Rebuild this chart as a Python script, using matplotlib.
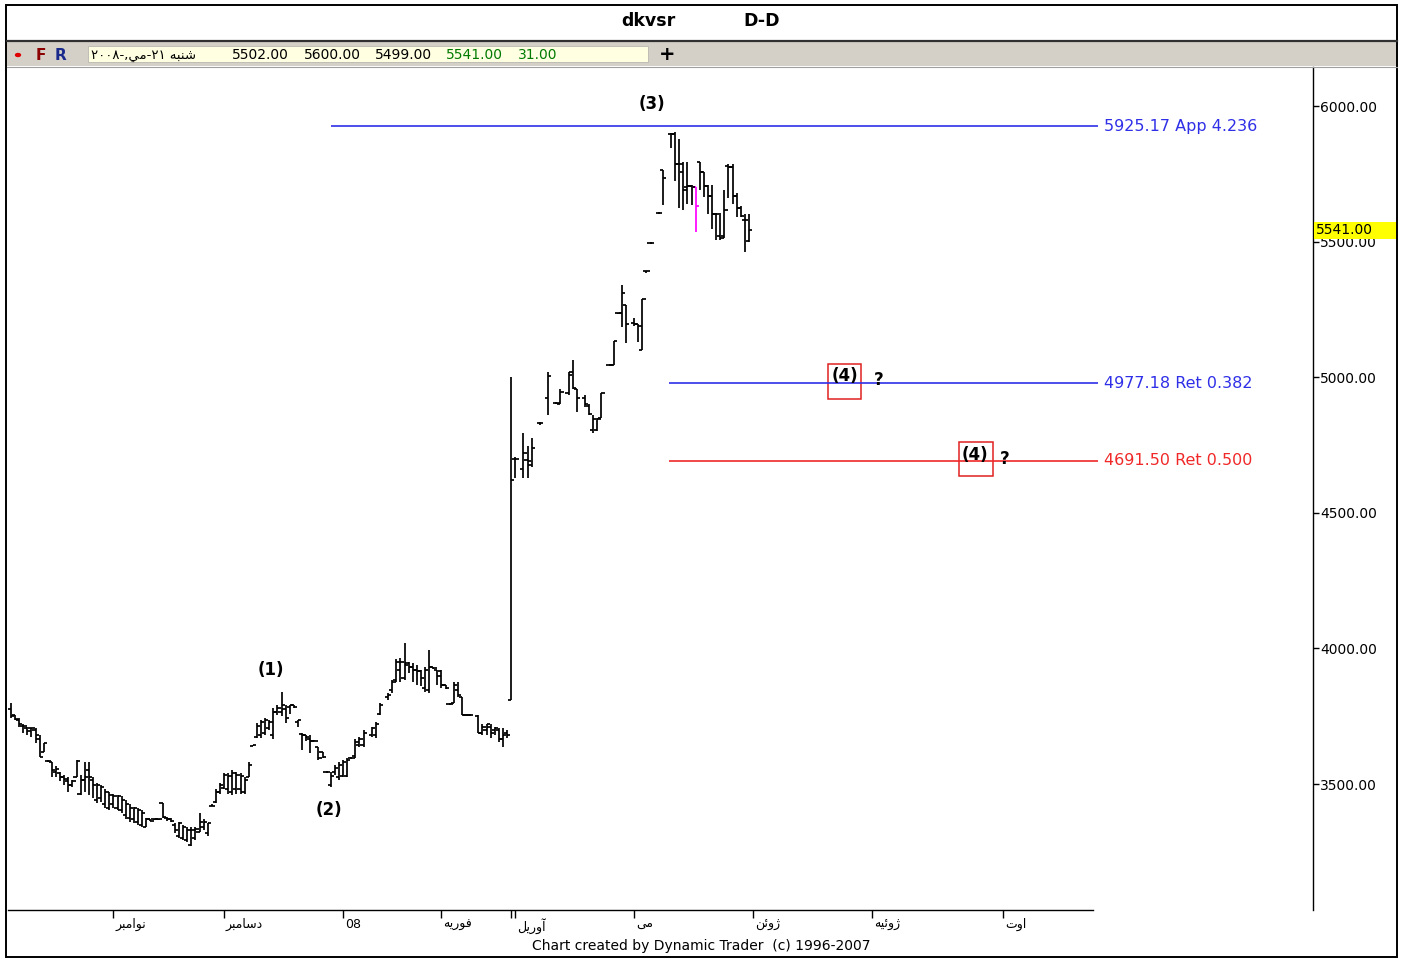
import matplotlib
matplotlib.use("Agg")
import matplotlib.pyplot as plt
from matplotlib.patches import Rectangle, Circle
from matplotlib.lines import Line2D
import numpy as np

plt.rcParams['font.family'] = ['DejaVu Sans', 'Noto Sans']

# ---------------------------------------------------------------- data
# trading-day index, open, high, low, close
day = [0, 1, 2, 3, 4, 5, 6, 7, 8, 9, 10, 11, 12, 13, 14, 15, 16, 17, 18, 19,
       20, 21, 22, 23, 24, 25, 26, 27, 28, 29, 30, 31, 32, 33, 34, 35, 36, 37, 38, 39,
       40, 41, 42, 43, 44, 45, 46, 47, 48, 49, 50, 51, 52, 53, 54, 55, 56, 57, 58, 59,
       60, 61, 62, 63, 64, 65, 66, 67, 68, 69, 70, 71, 72, 73, 74, 75, 76, 77, 78, 79,
       80, 81, 82, 83, 84, 85, 86, 88, 89, 90, 92, 93, 94, 95, 96, 97, 98, 99, 100, 101,
       102, 103, 104, 105, 106, 107, 108, 109, 110, 111, 112, 114, 115, 116, 117, 118, 119, 120, 121, 122,
       123, 125, 126, 127, 129, 131, 133, 134, 136, 137, 138, 140, 141, 142, 143, 144, 146, 147, 148, 149,
       150, 152, 153, 154, 155, 156, 158, 159, 161, 162, 163, 164, 165, 166, 167, 168, 169, 170, 171, 172,
       173, 174, 175, 176, 177, 178, 179, 180]
opens = [3775, 3755, 3735, 3715, 3705, 3705, 3700, 3665, 3620, 3585, 3580, 3545, 3540, 3525, 3510, 3495, 3525, 3465, 3515, 3550,
         3515, 3440, 3450, 3425, 3410, 3425, 3410, 3405, 3385, 3375, 3370, 3360, 3350, 3340, 3370, 3370, 3370, 3430, 3375, 3370,
         3350, 3310, 3300, 3295, 3275, 3300, 3325, 3340, 3320, 3420, 3435, 3470, 3485, 3480, 3470, 3480, 3480, 3470, 3525, 3640,
         3675, 3680, 3690, 3705, 3680, 3765, 3765, 3775, 3785, 3790, 3730, 3685, 3680, 3665, 3660, 3635, 3620, 3545, 3495, 3545,
         3525, 3530, 3530, 3595, 3605, 3645, 3645, 3680, 3680, 3760, 3820, 3845, 3885, 3920, 3890, 3945, 3930, 3920, 3915, 3855,
         3845, 3930, 3920, 3915, 3865, 3795, 3800, 3845, 3820, 3755, 3755, 3750, 3690, 3700, 3710, 3700, 3700, 3665, 3690, 3810,
         4700, 4660, 4695, 4675, 4830, 4925, 4905, 4900, 4940, 5020, 4955, 4925, 4895, 4805, 4805, 4850, 5045, 5045, 5235, 5235,
         5265, 5200, 5195, 5100, 5390, 5495, 5605, 5765, 5895, 5895, 5785, 5755, 5700, 5705, 5700, 5795, 5755, 5705, 5670, 5600,
         5520, 5520, 5780, 5775, 5670, 5625, 5580, 5502]
highs = [3800, 3755, 3745, 3720, 3710, 3705, 3705, 3680, 3650, 3590, 3580, 3565, 3545, 3535, 3525, 3515, 3590, 3535, 3580, 3580,
         3525, 3505, 3495, 3480, 3470, 3465, 3460, 3455, 3440, 3425, 3415, 3410, 3405, 3375, 3370, 3372, 3372, 3430, 3380, 3375,
         3355, 3360, 3350, 3340, 3340, 3340, 3395, 3370, 3355, 3425, 3480, 3505, 3540, 3540, 3550, 3545, 3540, 3525, 3580, 3645,
         3725, 3735, 3745, 3735, 3780, 3790, 3840, 3790, 3790, 3792, 3735, 3690, 3680, 3680, 3662, 3637, 3620, 3548, 3545, 3570,
         3580, 3590, 3595, 3598, 3665, 3675, 3700, 3710, 3730, 3800, 3835, 3885, 3960, 3965, 4020, 3950, 3945, 3940, 3920, 3930,
         3995, 3932, 3920, 3920, 3865, 3797, 3875, 3875, 3820, 3757, 3757, 3755, 3720, 3720, 3720, 3710, 3705, 3705, 3700, 5000,
         4705, 4795, 4745, 4775, 4835, 5020, 4908, 4955, 5020, 5065, 4955, 4935, 4900, 4860, 4850, 4940, 5048, 5135, 5238, 5340,
         5265, 5220, 5195, 5290, 5392, 5497, 5608, 5765, 5900, 5905, 5880, 5795, 5795, 5710, 5700, 5795, 5755, 5710, 5710, 5605,
         5605, 5690, 5785, 5785, 5680, 5630, 5600, 5600]
lows = [3745, 3735, 3710, 3690, 3680, 3675, 3650, 3600, 3620, 3580, 3525, 3525, 3510, 3495, 3470, 3490, 3525, 3460, 3470, 3460,
        3450, 3430, 3435, 3410, 3405, 3410, 3405, 3395, 3370, 3360, 3355, 3350, 3340, 3340, 3365, 3368, 3368, 3375, 3365, 3360,
        3320, 3300, 3295, 3285, 3270, 3295, 3325, 3330, 3310, 3420, 3430, 3465, 3480, 3465, 3460, 3465, 3465, 3465, 3525, 3640,
        3670, 3670, 3680, 3700, 3665, 3755, 3750, 3725, 3760, 3780, 3710, 3625, 3660, 3615, 3658, 3590, 3595, 3542, 3490, 3535,
        3515, 3525, 3525, 3592, 3595, 3635, 3635, 3675, 3670, 3755, 3810, 3835, 3875, 3875, 3885, 3910, 3875, 3865, 3860, 3840,
        3835, 3925, 3865, 3855, 3850, 3793, 3800, 3820, 3755, 3752, 3752, 3690, 3680, 3680, 3670, 3680, 3655, 3635, 3670, 3810,
        4630, 4630, 4630, 4670, 4825, 4860, 4900, 4900, 4935, 4955, 4870, 4890, 4860, 4795, 4800, 4850, 5042, 5045, 5232, 5185,
        5125, 5190, 5130, 5100, 5386, 5492, 5603, 5635, 5845, 5725, 5625, 5615, 5640, 5635, 5535, 5690, 5665, 5600, 5545, 5505,
        5505, 5515, 5660, 5640, 5590, 5590, 5460, 5499]
closes = [3750, 3740, 3720, 3715, 3695, 3705, 3680, 3600, 3650, 3585, 3550, 3555, 3525, 3520, 3495, 3510, 3585, 3515, 3525, 3525,
          3495, 3495, 3490, 3470, 3460, 3455, 3455, 3440, 3425, 3410, 3410, 3405, 3395, 3370, 3365, 3370, 3370, 3380, 3370, 3362,
          3330, 3355, 3340, 3330, 3330, 3335, 3360, 3360, 3355, 3420, 3470, 3495, 3535, 3530, 3540, 3535, 3530, 3515, 3570, 3645,
          3715, 3730, 3735, 3730, 3765, 3780, 3790, 3745, 3790, 3785, 3735, 3680, 3675, 3660, 3660, 3595, 3600, 3545, 3530, 3560,
          3570, 3580, 3590, 3596, 3655, 3665, 3690, 3705, 3720, 3790, 3830, 3875, 3950, 3950, 3940, 3930, 3920, 3915, 3890, 3920,
          3930, 3928, 3900, 3865, 3855, 3795, 3865, 3830, 3755, 3755, 3755, 3690, 3710, 3720, 3690, 3705, 3665, 3680, 3680, 4620,
          4700, 4720, 4690, 4740, 4830, 5005, 4905, 4945, 5010, 4960, 4925, 4900, 4865, 4845, 4845, 4940, 5045, 5135, 5235, 5310,
          5195, 5195, 5190, 5290, 5390, 5495, 5605, 5735, 5895, 5785, 5785, 5690, 5705, 5700, 5630, 5755, 5705, 5670, 5600, 5600,
          5515, 5615, 5775, 5670, 5625, 5595, 5580, 5541]
highlight_day = 167

# price targets drawn as horizontal levels
level_values = [5925.17, 4977.18, 4691.50]
level_labels = ["5925.17 App 4.236", "4977.18 Ret 0.382", "4691.50 Ret 0.500"]
level_colors = ["#2f2fe8", "#2f2fe8", "#f02828"]
level_starts = [78, 160.5, 160.5]
level_end = 265

y_ticks = [3500, 4000, 4500, 5000, 5500, 6000]
last_close = 5541.00

header_values = ["5502.00", "5600.00", "5499.00", "5541.00", "31.00"]

month_days = [25, 52, 81, 105, 122, 123, 152, 181, 210, 242]
month_names = ["نوامبر", "دسامبر", "08", "فوريه", "", "آوريل", "مى", "ژوئن", "ژوئيه", "اوت"]

# ---------------------------------------------------------------- Persian shaping
FORMS = {
    'ا': ('\uFE8D', '\uFE8E', None, None),
    'آ': ('\uFE81', '\uFE82', None, None),
    'ب': ('\uFE8F', '\uFE90', '\uFE91', '\uFE92'),
    'ت': ('\uFE95', '\uFE96', '\uFE97', '\uFE98'),
    'د': ('\uFEA9', '\uFEAA', None, None),
    'ر': ('\uFEAD', '\uFEAE', None, None),
    'ژ': ('\uFB8A', '\uFB8B', None, None),
    'س': ('\uFEB1', '\uFEB2', '\uFEB3', '\uFEB4'),
    'ش': ('\uFEB5', '\uFEB6', '\uFEB7', '\uFEB8'),
    'ف': ('\uFED1', '\uFED2', '\uFED3', '\uFED4'),
    'ل': ('\uFEDD', '\uFEDE', '\uFEDF', '\uFEE0'),
    'م': ('\uFEE1', '\uFEE2', '\uFEE3', '\uFEE4'),
    'ن': ('\uFEE5', '\uFEE6', '\uFEE7', '\uFEE8'),
    'ه': ('\uFEE9', '\uFEEA', '\uFEEB', '\uFEEC'),
    'و': ('\uFEED', '\uFEEE', None, None),
    'ي': ('\uFEF1', '\uFEF2', '\uFEF3', '\uFEF4'),
    'ى': ('\uFEEF', '\uFEF0', None, None),
    'ئ': ('\uFE89', '\uFE8A', '\uFE8B', '\uFE8C'),
}


def farsi(text):
    """Shape Persian letters and return them in left-to-right display order."""
    out = []
    n = len(text)
    for i, ch in enumerate(text):
        forms = FORMS.get(ch)
        if forms is None:
            out.append(ch)
            continue
        prev = FORMS.get(text[i - 1]) if i > 0 else None
        nxt = FORMS.get(text[i + 1]) if i < n - 1 else None
        join_prev = prev is not None and prev[2] is not None
        join_next = nxt is not None and forms[2] is not None
        if join_prev and join_next:
            g = forms[3]
        elif join_prev:
            g = forms[1]
        elif join_next:
            g = forms[2]
        else:
            g = forms[0]
        out.append(g)
    if any(c in FORMS for c in text):
        return ''.join(reversed(out))
    return ''.join(out)


# ---------------------------------------------------------------- figure
W, H = 1401, 958
fig = plt.figure(figsize=(W / 100, H / 100), dpi=100)
fig.patch.set_facecolor("white")


def fx(px):
    return px / W


def fy(py):
    return 1 - py / H


# header: title strip, toolbar and outer frame
fig.add_artist(Rectangle((fx(7), fy(66)), fx(1397) - fx(7), fy(42) - fy(66),
                         transform=fig.transFigure, facecolor="#d4d0c8", edgecolor="none"))
fig.add_artist(Line2D([fx(7), fx(1397)], [fy(41), fy(41)], transform=fig.transFigure,
                      color="#303030", lw=1.6))
fig.add_artist(Line2D([fx(7), fx(1397)], [fy(66.5), fy(66.5)], transform=fig.transFigure,
                      color="#a0a0a0", lw=0.8))
fig.add_artist(Rectangle((fx(88), fy(62)), fx(648) - fx(88), fy(46) - fy(62),
                         transform=fig.transFigure, facecolor="#ffffe1", edgecolor="#b8b8b0", lw=0.6))
fig.add_artist(Rectangle((fx(6), fy(957)), fx(1397) - fx(6), fy(5) - fy(957),
                         transform=fig.transFigure, facecolor="none", edgecolor="black", lw=1.4))
fig.add_artist(Circle((fx(18), fy(55)), 3.2 / W, transform=fig.transFigure,
                      facecolor="#e00000", edgecolor="none"))

fig.text(fx(648), fy(21), "dkvsr", ha="center", va="center", fontsize=12.5, fontweight="bold")
fig.text(fx(762), fy(21), "D-D", ha="center", va="center", fontsize=12.5, fontweight="bold")
fig.text(fx(41), fy(55), "F", ha="center", va="center", fontsize=11, fontweight="bold", color="#8b0000")
fig.text(fx(61), fy(55), "R", ha="center", va="center", fontsize=11, fontweight="bold", color="#1a2a8c")
fig.text(fx(667), fy(54), "+", ha="center", va="center", fontsize=14, fontweight="bold")

date_text = "٢٠٠٨-," + farsi("مي") + "-٢١ " + farsi("شنبه")
fig.text(fx(91), fy(55), date_text, ha="left", va="center", fontsize=9.5)
header_x = [232, 304, 375, 446, 518]
header_c = ["black", "black", "black", "#007a00", "#007a00"]
for hx, txt, col in zip(header_x, header_values, header_c):
    fig.text(fx(hx), fy(55), txt, ha="left", va="center", fontsize=10, color=col)

fig.text(fx(701), fy(946), "Chart created by Dynamic Trader  (c) 1996-2007",
         ha="center", va="center", fontsize=10)

# ---------------------------------------------------------------- price axes
ax = fig.add_axes([fx(8), fy(910), fx(1313) - fx(8), fy(67) - fy(910)])
ax.set_facecolor("white")
ax.set_xlim(-0.73, 317.56)
ax.set_ylim(3035.6, 6143.8)

for side in ("left", "top"):
    ax.spines[side].set_visible(False)
ax.spines["right"].set_linewidth(1.0)
ax.spines["bottom"].set_linewidth(1.0)
ax.spines["bottom"].set_bounds(-0.73, 264)

ax.yaxis.tick_right()
ax.set_yticks(y_ticks)
ax.set_yticklabels([f"{v:.2f}" for v in y_ticks])
ax.tick_params(axis="y", direction="out", length=4, width=1, pad=1, labelsize=10)

ax.set_xticks(month_days)
ax.set_xticklabels([])
ax.tick_params(axis="x", direction="out", length=6, width=1)
xt = ax.get_xaxis_transform()
for d, name in zip(month_days, month_names):
    if name:
        ax.text(d + 0.4, -0.0095, farsi(name), transform=xt, ha="left", va="top", fontsize=9)

# OHLC bars
day_a = np.array(day, dtype=float)
colors = ["#ff00ff" if d == highlight_day else "black" for d in day]
ax.vlines(day_a, lows, highs, colors=colors, lw=1.25)
ax.hlines(opens, day_a - 0.8, day_a, colors=colors, lw=1.25)
ax.hlines(closes, day_a, day_a + 0.8, colors=colors, lw=1.25)

# projection levels
for val, lab, col, x0 in zip(level_values, level_labels, level_colors, level_starts):
    ax.hlines(val, x0, level_end, colors=col, lw=1.2)
    ax.text(level_end + 1.6, val, lab, color=col, ha="left", va="center", fontsize=11.5)

# last-close marker on the price scale
yt = ax.get_yaxis_transform()
ax.add_patch(Rectangle((1.0005, last_close - 31), 0.0636, 63, transform=yt,
                       facecolor="#ffff00", edgecolor="none", clip_on=False, zorder=5))
ax.text(1.0025, last_close, f"{last_close:.2f}", transform=yt, ha="left", va="center",
        fontsize=10, zorder=6, clip_on=False)

# wave counts
wave_kw = dict(ha="center", va="center", fontsize=12, fontweight="bold")
ax.text(156.3, 6007, "(3)", **wave_kw)
ax.text(63.4, 3921, "(1)", **wave_kw)
ax.text(77.6, 3405, "(2)", **wave_kw)
ax.text(203.4, 5003, "(4)", **wave_kw)
ax.text(235.1, 4713, "(4)", **wave_kw)
ax.text(211.7, 4990, "?", **wave_kw)
ax.text(242.4, 4697, "?", **wave_kw)
ax.add_patch(Rectangle((199.3, 4920), 8.0, 129, facecolor="none", edgecolor="#e02020", lw=1.1))
ax.add_patch(Rectangle((231.2, 4636), 8.3, 126, facecolor="none", edgecolor="#e02020", lw=1.1))

fig.savefig("out.png", dpi=100)
